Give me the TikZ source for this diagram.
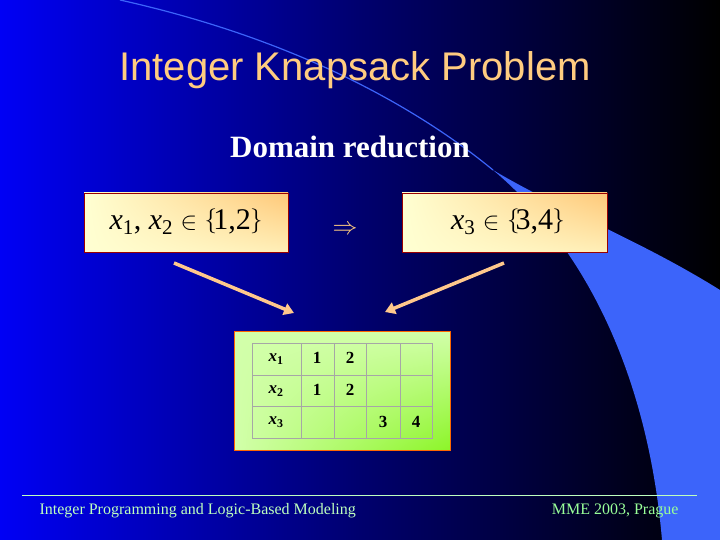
\documentclass[tikz,border=0pt]{standalone}
\usepackage{fontspec}
\setmainfont{Liberation Serif}
\newfontfamily\arialf{Liberation Sans}
\usetikzlibrary{arrows.meta,shadings}
\definecolor{bgA}{RGB}{0,0,245}
\definecolor{bgB}{RGB}{0,0,110}
\definecolor{swoosh}{RGB}{60,100,250}
\definecolor{titlec}{RGB}{255,204,128}
\definecolor{foot}{RGB}{190,255,190}
\definecolor{arrowc}{RGB}{255,200,140}
\definecolor{boxA}{RGB}{255,255,210}
\definecolor{boxB}{RGB}{255,200,120}
\definecolor{grA}{RGB}{210,255,170}
\definecolor{grB}{RGB}{140,245,40}
\begin{document}
\begin{tikzpicture}[x=1pt,y=-1pt,
  setbox/.style={draw=red!60!black,line width=0.8pt,lower left=boxA,upper right=boxB,lower right=boxA!70!boxB,upper left=boxA},
  bigarrow/.style={draw=arrowc,line width=3.5pt,-{Triangle[length=10pt,width=12pt]}},
  cell/.style={font=\bfseries\fontsize{17}{17}\selectfont}]
\useasboundingbox (0,0) rectangle (720,540);
\shade[left color=bgA,right color=black,middle color=bgB] (0,0) rectangle (720,540);
% swoosh
\draw[swoosh,line width=1.2pt] (120,0) .. controls (300,40) and (420,110) .. (493,170);
\fill[swoosh] (493,170) .. controls (600,260) and (650,400) .. (662,540) -- (720,540) -- (720,290) .. controls (640,240) and (560,210) .. (493,170) -- cycle;
% title
\node (title) at (355,70) {\arialf\fontsize{40}{40}\selectfont\color{titlec}Integer Knapsack Problem};
\node (sub) at (350,147) {\bfseries\fontsize{31}{31}\selectfont\color{white}Domain reduction};
% boxes
\shade[setbox] (84,193) rectangle (288,252);
\node (b1) at (186,222) {\fontsize{30}{30}\selectfont\textit{x}$_{\mathrm{1}}$, \textit{x}$_{\mathrm{2}}$ $\in$ \raisebox{2pt}{$\left\{\vphantom{1}\right.$}\hspace{-5pt}1,2\hspace{-2pt}\raisebox{2pt}{$\left.\vphantom{1}\right\}$}};
\shade[setbox] (402,193) rectangle (607,252);
\node (b2) at (508,222) {\fontsize{30}{30}\selectfont\textit{x}$_{\mathrm{3}}$ $\in$ \raisebox{2pt}{$\left\{\vphantom{1}\right.$}\hspace{-5pt}3,4\hspace{-2pt}\raisebox{2pt}{$\left.\vphantom{1}\right\}$}};
\node[text=titlec] (imp) at (345,230) {\fontsize{40}{40}\selectfont$\Rightarrow$};
% green box
\shade[draw=orange!80!red,line width=0.8pt,upper left=grA,lower right=grB,upper right=grA,lower left=grA] (234,331) rectangle (450,450);
\draw[gray!70,line width=1pt] (252,343) rectangle (432,438);
\foreach \x in {301,334,366,400} \draw[gray!70,line width=1pt] (\x,343) -- (\x,438);
\foreach \y in {375,406} \draw[gray!70,line width=1pt] (252,\y) -- (432,\y);
\node[cell] (r1) at (276,359) {\textit{x}\textsubscript{1}};
\node[cell] (r2) at (276,391) {\textit{x}\textsubscript{2}};
\node[cell] (r3) at (276,422) {\textit{x}\textsubscript{3}};
\node[cell] (c11) at (317,358) {1};
\node[cell] (c12) at (350,358) {2};
\node[cell] (c21) at (317,390) {1};
\node[cell] (c22) at (350,390) {2};
\node[cell] (c33) at (383,422) {3};
\node[cell] (c34) at (416,422) {4};
\coordinate (a1s) at (174,263); \coordinate (a1e) at (294,313);
\coordinate (a2s) at (504,263); \coordinate (a2e) at (385,312);
\draw[bigarrow] (a1s) -- (a1e);
\draw[bigarrow] (a2s) -- (a2e);
% footer
\coordinate (fl) at (22,495); \coordinate (fr) at (697,495);
\draw[foot,line width=0.6pt] (fl) -- (fr);
\node[anchor=west,text=foot] (f1) at (36,511) {\fontsize{16}{16}\selectfont Integer Programming and Logic-Based Modeling};
\node[anchor=east,text=green!40!white] (f2) at (682,511) {\fontsize{16}{16}\selectfont MME 2003, Prague};
\end{tikzpicture}
\end{document}
